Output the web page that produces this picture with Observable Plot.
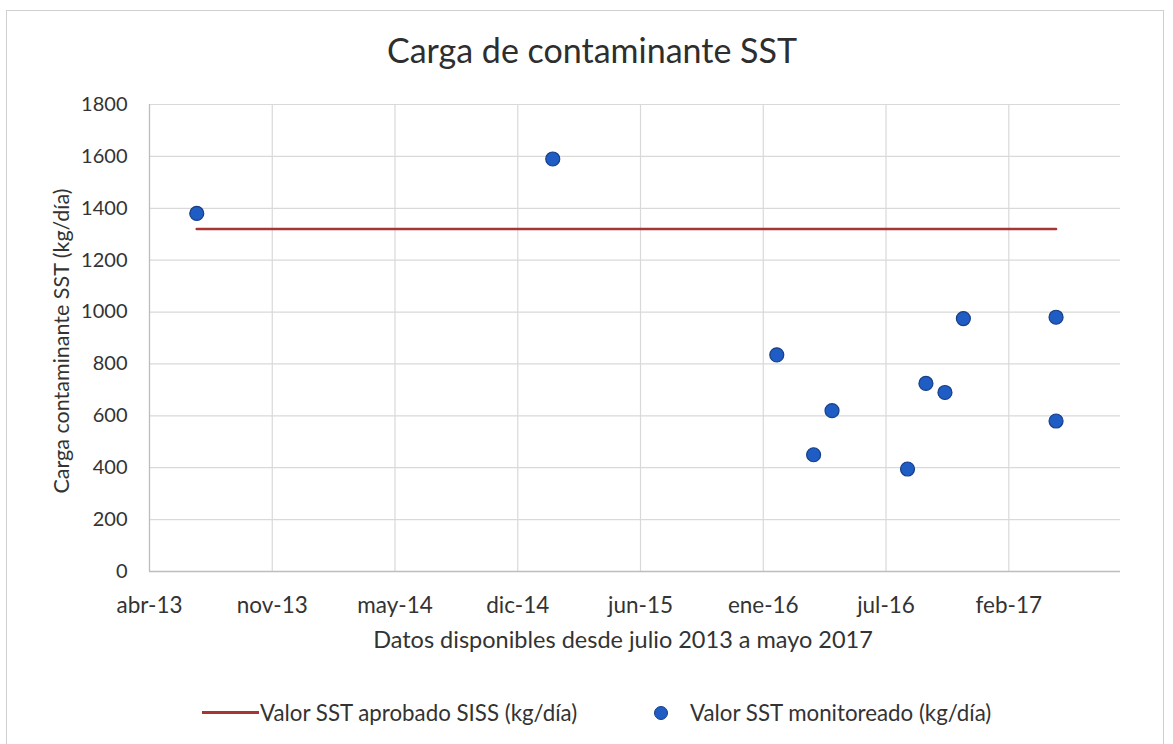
<!DOCTYPE html>
<html>
<head>
<meta charset="utf-8">
<script src="https://cdn.jsdelivr.net/npm/d3@7"></script>
<script src="https://cdn.jsdelivr.net/npm/@observablehq/plot@0.6"></script>
<style>
  html, body { margin: 0; padding: 0; background: #ffffff; }
  body { width: 1173px; height: 744px; position: relative; overflow: hidden; font-family: "Lato", "Open Sans", sans-serif; color: #3a3a3a; }
  #frame { position: absolute; left: 6px; top: 10px; width: 1158px; height: 760px; border: 1px solid #cfcfcf; box-sizing: border-box; }
  #title { position: absolute; left: 0; top: 29px; width: 1184px; text-align: center; font-size: 34px; line-height: 42px; color: #2e2e2e; }
  #chart { position: absolute; left: 0; top: 80px; }
  .leg { position: absolute; font-size: 22.3px; line-height: 28px; color: #333; white-space: nowrap; }
</style>
</head>
<body>
<div id="frame"></div>
<div id="title">Carga de contaminante SST</div>
<div id="chart"></div>
<div id="legend"></div>
<script>
// ---- data ----
const sampleDates = ["2013-07-01","2015-02-01","2016-02-01","2016-04-01","2016-05-01","2016-09-01","2016-10-01","2016-11-01","2016-12-01","2017-05-01","2017-05-01"];
const sampleValues = [1380, 1590, 835, 450, 620, 395, 725, 690, 975, 980, 580];
const limitDates = ["2013-07-01", "2017-05-01"];
const limitValues = [1320, 1320];
const xTickDates = ["2013-04-15","2013-11-01","2014-05-20","2014-12-06","2015-06-24","2016-01-10","2016-07-28","2017-02-13"];
const xTickLabels = ["abr-13","nov-13","may-14","dic-14","jun-15","ene-16","jul-16","feb-17"];
const yTicks = [0, 200, 400, 600, 800, 1000, 1200, 1400, 1600, 1800];
const xDomain = ["2013-04-15", "2017-08-14"];
const yLabel = "Carga contaminante SST (kg/día)";
const xLabel = "Datos disponibles desde julio 2013 a mayo 2017";
const legendLine = "Valor SST aprobado SISS (kg/día)";
const legendDot = "Valor SST monitoreado (kg/día)";

const parse = d3.utcParse("%Y-%m-%d");
const samples = sampleDates.map((d, i) => ({date: parse(d), value: sampleValues[i]}));
const limit = limitDates.map((d, i) => ({date: parse(d), value: limitValues[i]}));
const ticks = xTickDates.map(parse);
const labelByTime = new Map(ticks.map((t, i) => [t.getTime(), xTickLabels[i]]));

const lineColor = "#a93434";
const dotFill = "#1f5cc4";
const dotStroke = "#173f86";

const chart = Plot.plot({
  width: 1173,
  height: 581,
  marginLeft: 149,
  marginRight: 53,
  marginTop: 24,
  marginBottom: 90,
  style: {fontFamily: "Lato, 'Open Sans', sans-serif", fontSize: "20px", color: "#333", background: "transparent", overflow: "visible"},
  x: {type: "utc", domain: xDomain.map(parse), ticks: ticks, tickFormat: d => labelByTime.get(d.getTime()) ?? "", tickSize: 0, tickPadding: 26, label: null},
  y: {domain: [0, 1800], ticks: yTicks, tickFormat: d => String(d), tickSize: 0, tickPadding: 22, label: null},
  marks: [
    Plot.ruleY(yTicks.slice(1), {stroke: "#d9d9d9", strokeWidth: 1.2}),
    Plot.ruleX(ticks, {stroke: "#d9d9d9", strokeWidth: 1.2}),
    Plot.ruleX(ticks.slice(0, 1), {stroke: "#bdbdbd", strokeWidth: 1.2}),
    Plot.ruleY([0], {stroke: "#bdbdbd", strokeWidth: 1.5}),
    Plot.line(limit, {x: "date", y: "value", stroke: lineColor, strokeWidth: 2.6}),
    Plot.dot(samples, {x: "date", y: "value", r: 7, fill: dotFill, stroke: dotStroke, strokeWidth: 1.2}),
    Plot.text([yLabel], {frameAnchor: "left", textAnchor: "middle", rotate: -90, dx: -87, dy: 3, fontSize: 21.5, fill: "#333"}),
    Plot.text([xLabel], {frameAnchor: "bottom", textAnchor: "middle", dx: -12, dy: 76, fontSize: 23.5, fill: "#333"})
  ]
});
document.getElementById("chart").appendChild(chart);
// larger x tick labels
d3.select(chart).selectAll("g[aria-label='x-axis tick label'] text, g[aria-label='x-axis'] text").style("font-size", "22.5px");

// ---- legend ----
const legend = document.getElementById("legend");
legend.innerHTML = `
  <div style="position:absolute;left:202px;top:711px;width:57px;height:3px;background:${lineColor}"></div>
  <div class="leg" style="left:260px;top:699px">${legendLine}</div>
  <div style="position:absolute;left:654px;top:706px;width:12px;height:12px;border-radius:50%;background:${dotFill};border:1px solid ${dotStroke}"></div>
  <div class="leg" style="left:690px;top:699px">${legendDot}</div>
`;
</script>
</body>
</html>
